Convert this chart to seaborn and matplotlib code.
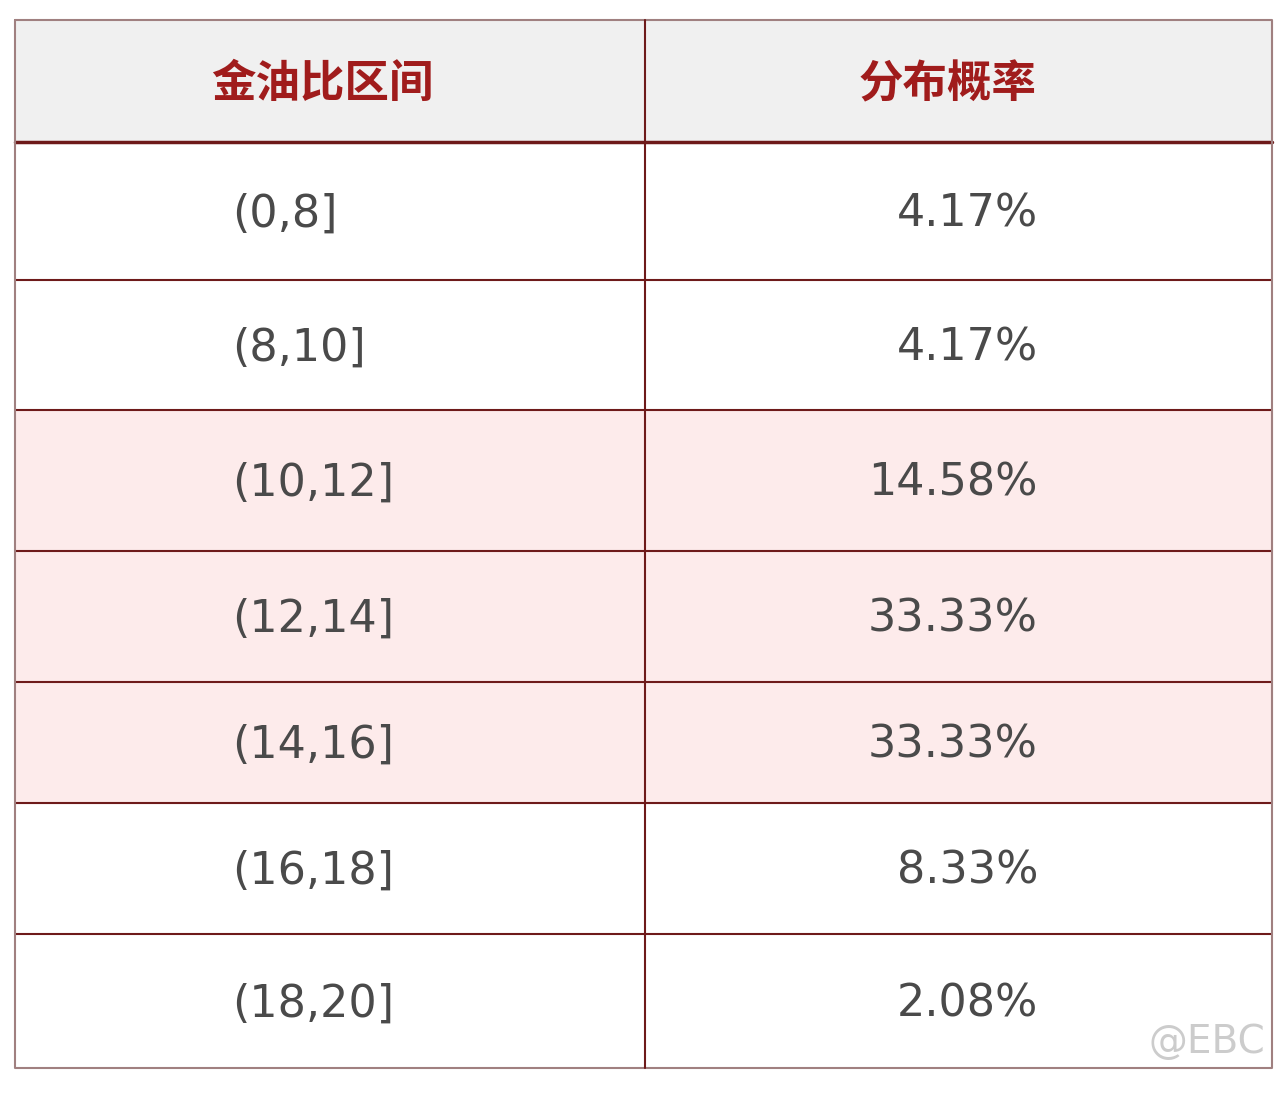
import matplotlib
matplotlib.use("Agg")
import matplotlib.pyplot as plt
import seaborn as sns

# --------------------------------------------------------------
# Data
# --------------------------------------------------------------
headers = ["金油比区间", "分布概率"]
ranges = ["(0,8]", "(8,10]", "(10,12]", "(12,14]", "(14,16]", "(16,18]", "(18,20]"]
probs = ["4.17%", "4.17%", "14.58%", "33.33%", "33.33%", "8.33%", "2.08%"]
highlight = [0, 0, 1, 1, 1, 0, 0]

sns.set_style("white")
plt.rcParams['font.family'] = ['Noto Sans CJK SC', 'DejaVu Sans']

fig = plt.figure(figsize=(12.8, 10.94), dpi=100)
ax = fig.add_axes([0, 0, 1, 1])
ax.set_xlim(0, 1280)
ax.set_ylim(1094, 0)
ax.axis("off")

# layout (pixel positions of the grid)
left, right, mid = 15, 1272, 645
top = 20
row_edges = [142, 280, 410, 551, 682, 803, 934, 1068]
border = "#6e1a1a"

# header
ax.add_patch(plt.Rectangle((left, top), right - left, row_edges[0] - top, color="#f0f0f0", zorder=0))
ax.text(322, 84, headers[0], ha="center", va="center",
        fontsize=32, fontweight="bold", color="#a01c1c")
ax.text(948, 84, headers[1], ha="center", va="center",
        fontsize=32, fontweight="bold", color="#a01c1c")

# body
for i, (r, p, h) in enumerate(zip(ranges, probs, highlight)):
    y0, y1 = row_edges[i], row_edges[i + 1]
    yc = (y0 + y1) / 2 + 3
    if h:
        ax.add_patch(plt.Rectangle((left, y0), right - left, y1 - y0, color="#fdebeb", zorder=0))
    ax.text(232, yc, r, ha="left", va="center", fontsize=32,
            color="#4a4a4a", family="DejaVu Sans")
    ax.text(1038, yc, p, ha="right", va="center", fontsize=32,
            color="#4a4a4a", family="DejaVu Sans")
    ax.plot([left, right], [y0, y0], color=border, lw=1.5 if i else 2.5)

# outer borders and divider
ax.plot([left, right, right, left, left], [top, top, row_edges[-1], row_edges[-1], top],
        color="#a08080", lw=1.5)
ax.plot([mid, mid], [top, row_edges[-1]], color=border, lw=1.5)

# watermark
ax.text(1265, 1042, "@EBC", ha="right", va="center", fontsize=28, color="#cccccc",
        family="DejaVu Sans")

fig.savefig("out.png", dpi=100)
